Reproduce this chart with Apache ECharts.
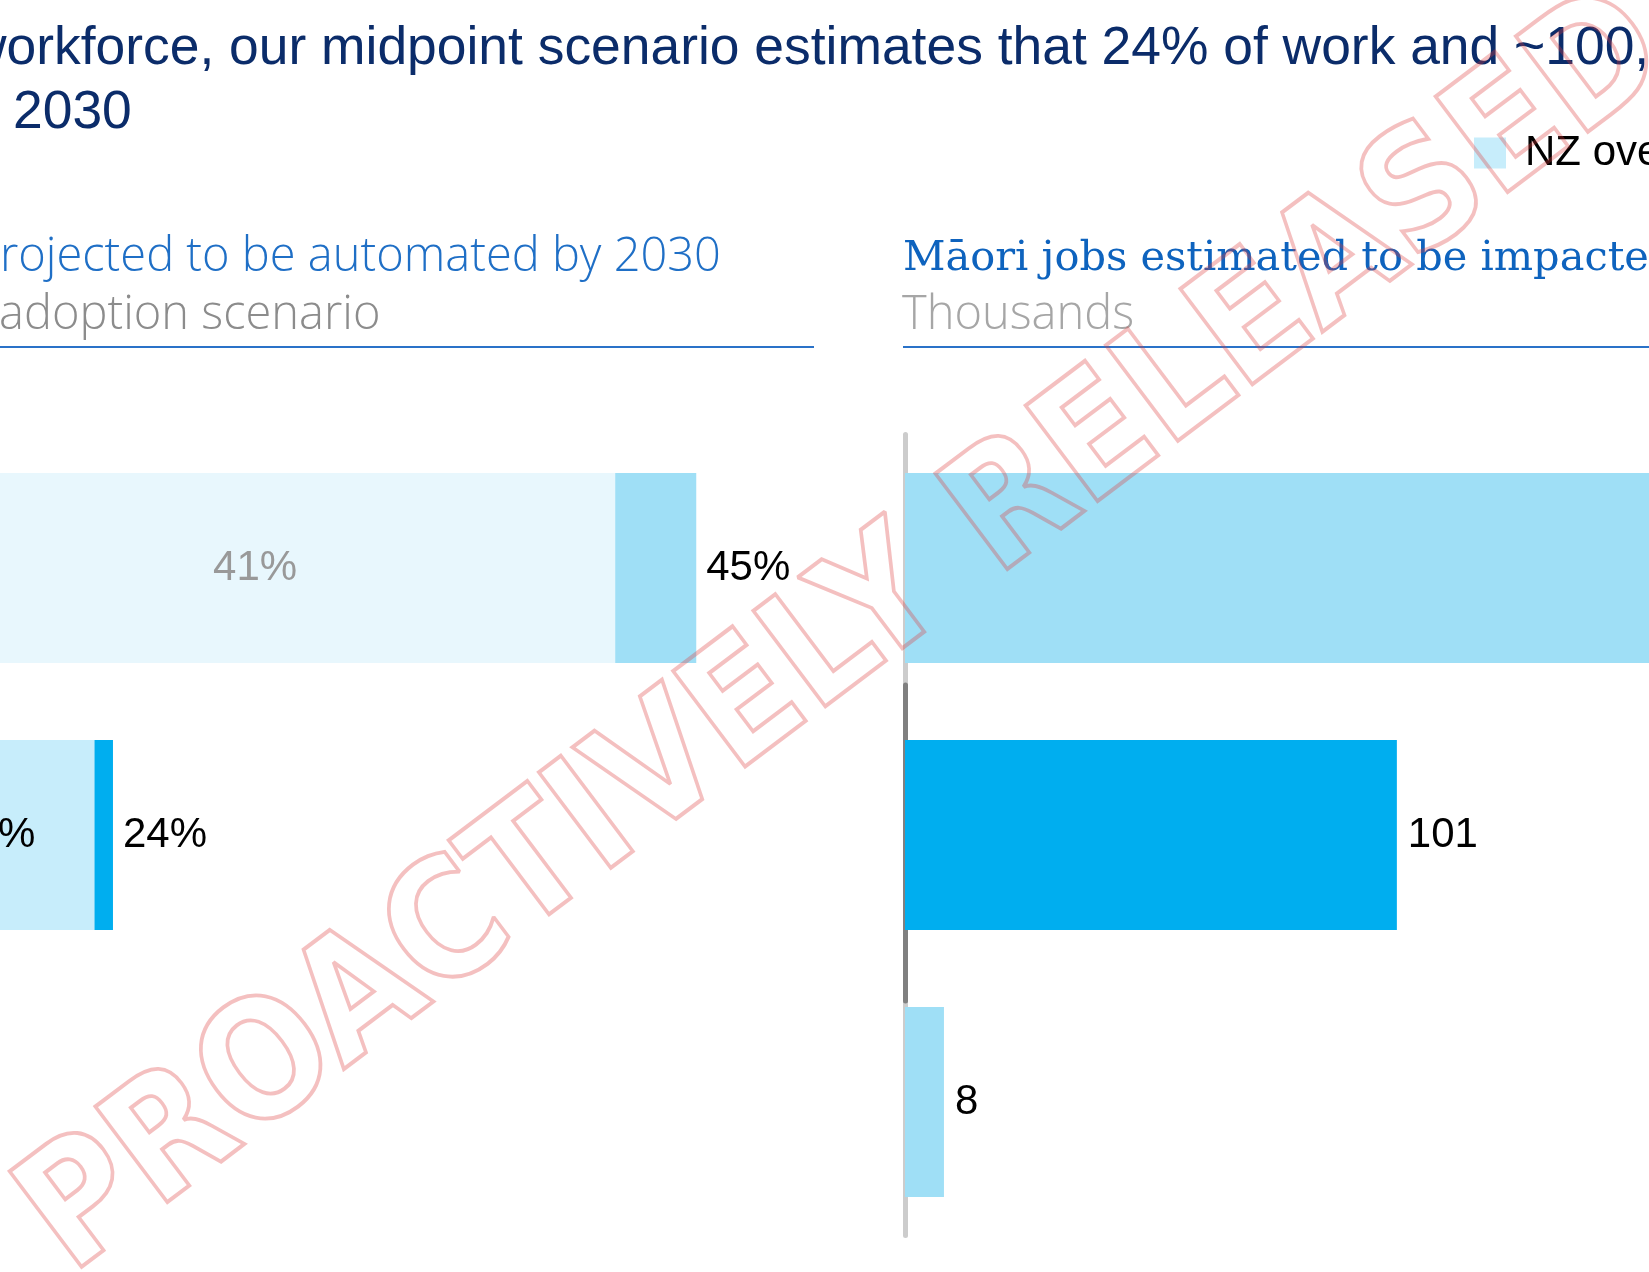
<!DOCTYPE html>
<html>
<head>
<meta charset="utf-8">
<script src="https://cdn.jsdelivr.net/npm/echarts@6/dist/echarts.min.js"></script>
<style>
  html, body { margin: 0; padding: 0; background: #ffffff; }
  #chart { width: 1649px; height: 1272px; }
</style>
</head>
<body>
<div id="chart"></div>
<script>
// Adoption scenarios, one row each (top to bottom)
const scenarios = ['Fastest', 'Midpoint', 'Slowest'];

// % of work hours projected to be automated by 2030
const nzOverallShare = [41, 22, null];
const maoriShare = [45, 24, null];

// Māori jobs estimated to be impacted by 2030, thousands
const maoriJobs = [189, 101, 8];

// Header texts
const headline = ['workforce, our midpoint scenario estimates that 24% of work and ~100,000 jobs could be', '2030'];
const leftHeading = ['projected to be automated by 2030', 'adoption scenario'];
const rightHeading = ['Māori jobs estimated to be impacted by 2030', 'Thousands'];
const stamp = 'PROACTIVELY RELEASED';

const SANS = '"Liberation Sans", Arial, Helvetica, sans-serif';
const LIGHT = '"Open Sans", "Noto Sans", sans-serif';
const SERIF = '"DejaVu Serif", Georgia, serif';

// Row 1 is faded, the midpoint row is highlighted
const nzColors = ['#E8F7FD', '#C7EDFB', '#E8F7FD'];
const maoriColors = ['#9FDFF6', '#00AEEF', '#9FDFF6'];
const nzLabelColors = ['#999999', '#000000', '#999999'];
const nzLabelShift = [[55, 0], [0, 0], [0, 0]];

const ROW_TOP = 434.5, ROW_H = 801, BAR_W = 190;

// keep only one scenario row in a series
function onlyRow(arr, row) {
  return arr.map((v, i) => (i === row && v != null ? v : '-'));
}

function shareSeries(row, gridIdx) {
  return [
    {
      name: 'Māori',
      type: 'bar',
      xAxisIndex: gridIdx, yAxisIndex: gridIdx,
      barWidth: BAR_W, barGap: '-100%',
      data: onlyRow(maoriShare, row).map((v, i) => ({ value: v, itemStyle: { color: maoriColors[i] } })),
      itemStyle: { color: '#00AEEF' },
      label: {
        show: true, position: 'right', distance: 10,
        formatter: '{c}%', color: '#000000',
        fontFamily: SANS, fontSize: 42
      },
      silent: true, animation: false
    },
    {
      name: 'NZ overall',
      type: 'bar',
      xAxisIndex: gridIdx, yAxisIndex: gridIdx,
      barWidth: BAR_W, barGap: '-100%',
      data: onlyRow(nzOverallShare, row).map((v, i) => ({
        value: v,
        itemStyle: { color: nzColors[i] },
        label: { color: nzLabelColors[i], offset: nzLabelShift[i] }
      })),
      itemStyle: { color: '#C7EDFB' },
      label: {
        show: true, position: 'inside',
        formatter: '{c}%',
        fontFamily: SANS, fontSize: 42
      },
      silent: true, animation: false
    }
  ];
}

const hiddenCat = (gridIndex) => ({
  type: 'category', gridIndex, data: scenarios, inverse: true, show: false
});

const chart = echarts.init(document.getElementById('chart'), null, { renderer: 'canvas' });

chart.setOption({
  backgroundColor: '#ffffff',
  animation: false,
  legend: {
    data: ['NZ overall'],
    left: 1474, top: 132, padding: 0,
    icon: 'rect', itemWidth: 32, itemHeight: 31,
    selectedMode: false,
    textStyle: { fontFamily: SANS, fontSize: 42, color: '#000000', padding: [0, 0, 0, 14] }
  },
  grid: [
    // left panel: each scenario row has its own x scale
    { left: -215, top: ROW_TOP, width: 2025, height: ROW_H, outerBoundsMode: 'none' },
    { left: -108, top: ROW_TOP, width: 1777, height: ROW_H, outerBoundsMode: 'none' },
    // right panel: jobs in thousands
    { left: 905, top: ROW_TOP, width: 974, height: ROW_H, outerBoundsMode: 'none' },
    // darker stretch of the right axis beside the midpoint row
    { left: 905, top: 685, width: 1, height: 316, outerBoundsMode: 'none' }
  ],
  xAxis: [
    { type: 'value', gridIndex: 0, min: 0, max: 100, show: false },
    { type: 'value', gridIndex: 1, min: 0, max: 193, show: false },
    { type: 'value', gridIndex: 2, min: 0, max: 200, show: false },
    { type: 'value', gridIndex: 3, min: 0, max: 1, show: false }
  ],
  yAxis: [
    hiddenCat(0),
    hiddenCat(1),
    {
      type: 'category', gridIndex: 2, data: scenarios, inverse: true,
      offset: 2.5,
      axisLine: { show: true, lineStyle: { color: '#CCCCCC', width: 5 } },
      axisTick: { show: false }, axisLabel: { show: false }, splitLine: { show: false }
    },
    {
      type: 'value', gridIndex: 3, offset: 2.5,
      axisLine: { show: true, lineStyle: { color: '#808080', width: 5 } },
      axisTick: { show: false }, axisLabel: { show: false }, splitLine: { show: false }
    }
  ],
  series: [
    ...shareSeries(0, 0),
    ...shareSeries(1, 1),
    {
      name: 'Māori jobs',
      type: 'bar',
      xAxisIndex: 2, yAxisIndex: 2,
      barWidth: BAR_W,
      data: maoriJobs.map((v, i) => ({ value: v, itemStyle: { color: maoriColors[i] } })),
      label: {
        show: true, position: 'right', distance: 11,
        color: '#000000', fontFamily: SANS, fontSize: 42
      },
      silent: true, animation: false
    }
  ],
  graphic: [
    // headline
    { type: 'text', x: -32, y: 49, style: { text: headline[0], font: '53.4px ' + SANS, fill: '#0B2C6A', textAlign: 'left', textVerticalAlign: 'middle', align: 'left', verticalAlign: 'middle' } },
    { type: 'text', x: 13, y: 113, style: { text: headline[1], font: '53.4px ' + SANS, fill: '#0B2C6A', textAlign: 'left', textVerticalAlign: 'middle', align: 'left', verticalAlign: 'middle' } },
    // left panel heading
    { type: 'text', x: -28, y: 258, style: { text: leftHeading[0], font: '300 47px ' + LIGHT, fill: '#1F6FC6', textAlign: 'left', textVerticalAlign: 'middle', align: 'left', verticalAlign: 'middle' } },
    { type: 'text', x: -1, y: 316, style: { text: leftHeading[1], font: '300 47px ' + LIGHT, fill: '#8C8C8C', textAlign: 'left', textVerticalAlign: 'middle', align: 'left', verticalAlign: 'middle' } },
    { type: 'line', shape: { x1: 0, y1: 347, x2: 814, y2: 347 }, style: { stroke: '#2A72C8', lineWidth: 2 } },
    // right panel heading
    { type: 'text', x: 903, y: 259, style: { text: rightHeading[0], font: '41.5px ' + SERIF, fill: '#0E63BE', textAlign: 'left', textVerticalAlign: 'middle', align: 'left', verticalAlign: 'middle' } },
    { type: 'text', x: 902, y: 316, style: { text: rightHeading[1], font: '300 47px ' + LIGHT, fill: '#A6A6A6', textAlign: 'left', textVerticalAlign: 'middle', align: 'left', verticalAlign: 'middle' } },
    { type: 'line', shape: { x1: 903, y1: 347, x2: 1649, y2: 347 }, style: { stroke: '#2A72C8', lineWidth: 2 } },
    // release stamp across the page
    {
      type: 'text', x: 45, y: 1241, rotation: 0.6458, scaleX: 0.895, z: 100,
      style: {
        text: stamp, font: 'bold 164px "DejaVu Sans", sans-serif',
        fill: 'transparent', stroke: 'rgba(222, 60, 60, 0.32)', lineWidth: 4, lineJoin: 'round',
        textAlign: 'left', textVerticalAlign: 'middle', align: 'left', verticalAlign: 'middle'
      }
    }
  ]
});
</script>
</body>
</html>
